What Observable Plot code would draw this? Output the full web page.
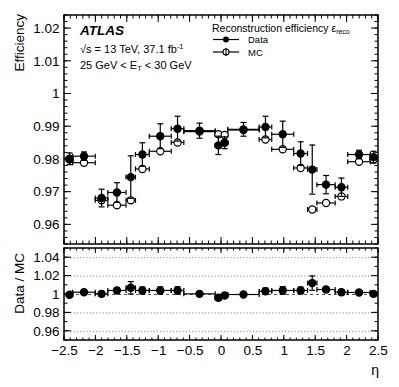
<!DOCTYPE html>
<html><head><meta charset="utf-8">
<script src="https://cdn.jsdelivr.net/npm/d3@7"></script>
<script src="https://cdn.jsdelivr.net/npm/@observablehq/plot@0.6"></script>
<style>
body{margin:0;background:#fff;}
#chart{position:relative;width:399px;height:387px;}
#chart svg{position:absolute;left:0;}
</style></head><body><div id="chart"></div>
<script>
// ---- data ----
const etaLo  = [-2.47,-2.37,-2.01,-1.81,-1.52,-1.37,-1.15,-0.8,-0.6,-0.1,0,0.1,0.6,0.8,1.15,1.37,1.52,1.81,2.01,2.37];
const etaHi  = [-2.37,-2.01,-1.81,-1.52,-1.37,-1.15,-0.8,-0.6,-0.1,0,0.1,0.6,0.8,1.15,1.37,1.52,1.81,2.01,2.37,2.47];
const etaMid = [-2.42,-2.19,-1.91,-1.665,-1.445,-1.26,-0.975,-0.7,-0.35,-0.05,0.05,0.35,0.7,0.975,1.26,1.445,1.665,1.91,2.19,2.42];
const effData = [0.9802,0.9810,0.9682,0.9699,0.9746,0.9815,0.9871,0.9894,0.9888,0.9843,0.9851,0.9892,0.9899,0.9877,0.9818,0.9769,0.9723,0.9715,0.9815,0.9807];
const errData = [0.0018,0.0013,0.0027,0.0030,0.0065,0.0036,0.0038,0.0038,0.0023,0.0028,0.0018,0.0021,0.0033,0.0040,0.0036,0.0075,0.0028,0.0028,0.0013,0.0018];
const effMC   = [0.9800,0.9790,0.9675,0.9660,0.9675,0.9771,0.9825,0.9852,0.9885,0.9877,0.9875,0.9890,0.9861,0.9831,0.9774,0.9647,0.9667,0.9687,0.9793,0.9800];
const ratio    = [0.9997,1.0025,1.0007,1.0044,1.0073,1.0044,1.0044,1.0044,1.0007,0.9965,0.9989,1.0000,1.0036,1.0044,1.0044,1.0124,1.0054,1.0025,1.0022,1.0007];
const errRatio = [0.0018,0.0013,0.0028,0.0031,0.0067,0.0037,0.0039,0.0039,0.0023,0.0028,0.0018,0.0021,0.0033,0.0041,0.0037,0.0078,0.0029,0.0029,0.0013,0.0018];
const xTicks = [-2.5,-2,-1.5,-1,-0.5,0,0.5,1,1.5,2,2.5];
const yTicksTop = [0.96,0.97,0.98,0.99,1,1.01,1.02];
const yTicksBot = [0.96,0.98,1,1.02,1.04];
const gridBot = [0.96,0.98,1.02,1.04];

const rows = etaMid.map((e,i)=>({eta:e, lo:etaLo[i], hi:etaHi[i], d:effData[i], de:errData[i], mc:effMC[i], r:ratio[i], re:errRatio[i]}));

const FONT = '"Liberation Sans", Arial, Helvetica, sans-serif';
const fmt = d3.format("~g");
const capH = {draw(c){ c.moveTo(-3,0); c.lineTo(3,0); }};
const capV = {draw(c){ c.moveTo(0,-2.5); c.lineTo(0,2.5); }};
const range = (a,b,s) => d3.range(Math.round(a/s), Math.round(b/s)+1).map(k=>+(k*s).toFixed(4));

function frameDecor({xMajor, xMinor, yMajor, yMinor, xLen, yLen}) {
  return (index, scales, values, dims) => {
    const x = scales.x, y = scales.y;
    const L = dims.marginLeft, R = dims.width - dims.marginRight, T = dims.marginTop, B = dims.height - dims.marginBottom;
    const g = d3.create("svg:g").attr("fill","none").attr("stroke","#000");
    const p = [];
    for (const v of xMajor) { const px = x(v); p.push(`M${px},${B}v${-xLen[0]}M${px},${T}v${xLen[0]}`); }
    for (const v of xMinor) { const px = x(v); p.push(`M${px},${B}v${-xLen[1]}M${px},${T}v${xLen[1]}`); }
    for (const v of yMajor) { const py = y(v); if (py < T-0.5 || py > B+0.5) continue; p.push(`M${L},${py}h${yLen[0]}M${R},${py}h${-yLen[0]}`); }
    for (const v of yMinor) { const py = y(v); if (py < T-0.5 || py > B+0.5) continue; p.push(`M${L},${py}h${yLen[1]}M${R},${py}h${-yLen[1]}`); }
    g.append("path").attr("d", p.join("")).attr("stroke-width",1);
    g.append("rect").attr("x",L).attr("y",T).attr("width",R-L).attr("height",B-T).attr("stroke-width",1.5);
    return g.node();
  };
}

function errMarks(yKey, eKey, filled) {
  const m = [
    Plot.ruleY(rows, {y:yKey, x1:"lo", x2:"hi", stroke:"#000", strokeWidth:1.2}),
    Plot.dot(rows, {x:"lo", y:yKey, symbol:capV, r:3, fill:"none", stroke:"#000", strokeWidth:1.2}),
    Plot.dot(rows, {x:"hi", y:yKey, symbol:capV, r:3, fill:"none", stroke:"#000", strokeWidth:1.2})
  ];
  if (eKey) {
    m.push(
      Plot.ruleX(rows, {x:"eta", y1:d=>d[yKey]-d[eKey], y2:d=>d[yKey]+d[eKey], stroke:"#000", strokeWidth:1.2}),
      Plot.dot(rows, {x:"eta", y:d=>d[yKey]-d[eKey], symbol:capH, r:3, fill:"none", stroke:"#000", strokeWidth:1.2}),
      Plot.dot(rows, {x:"eta", y:d=>d[yKey]+d[eKey], symbol:capH, r:3, fill:"none", stroke:"#000", strokeWidth:1.2})
    );
  }
  m.push(Plot.dot(rows, {x:"eta", y:yKey, r:3.6, fill: filled ? "#000" : "#fff", stroke:"#000", strokeWidth:1.2}));
  return m;
}

function txt(g, x, y, parts, size, extra={}) {
  const t = g.append("text").attr("x",x).attr("y",y).attr("font-size",size).attr("fill","#000").attr("text-anchor","start");
  for (const k in extra) t.attr(k, extra[k]);
  for (const p of parts) {
    const s = t.append("tspan").text(p.t);
    if (p.size) s.attr("font-size", p.size);
    if (p.dy) s.attr("dy", p.dy);
  }
  return t;
}

const topAnno = () => {
  const g = d3.create("svg:g").attr("font-family", FONT).attr("text-anchor","start");
  txt(g, 80, 34.5, [{t:"ATLAS"}], 13.5, {"font-weight":"bold","font-style":"italic"});
  txt(g, 80, 53, [{t:"\u221As = 13 TeV, 37.1 fb"},{t:"-1",size:7.5,dy:-4.5}], 11);
  txt(g, 80, 68.5, [{t:"25 GeV < E"},{t:"T",size:7.5,dy:2.5},{t:" < 30 GeV",dy:-2.5}], 11);
  txt(g, 212, 32, [{t:"Reconstruction efficiency \u03B5"},{t:"reco",size:7,dy:2}], 10.5);
  g.append("line").attr("x1",213).attr("x2",239).attr("y1",39.5).attr("y2",39.5).attr("stroke","#000").attr("stroke-width",1.2);
  g.append("circle").attr("cx",226).attr("cy",39.5).attr("r",3).attr("fill","#000");
  txt(g, 248, 43, [{t:"Data"}], 9.5);
  g.append("line").attr("x1",213).attr("x2",239).attr("y1",52).attr("y2",52).attr("stroke","#000").attr("stroke-width",1.2);
  g.append("circle").attr("cx",226).attr("cy",52).attr("r",3).attr("fill","#fff").attr("stroke","#000").attr("stroke-width",1.1);
  g.append("line").attr("x1",226).attr("x2",226).attr("y1",48).attr("y2",56).attr("stroke","#000").attr("stroke-width",1.1);
  txt(g, 248, 55.5, [{t:"MC"}], 9.5);
  txt(g, 0, 0, [{t:"Efficiency"}], 13.5, {transform:"translate(24,14) rotate(-90)", "text-anchor":"end"});
  return g.node();
};

const botAnno = () => {
  const g = d3.create("svg:g").attr("font-family", FONT);
  txt(g, 0, 0, [{t:"Data / MC"}], 13.5, {transform:"translate(24,7) rotate(-90)", "text-anchor":"end"});
  txt(g, 379, 129, [{t:"\u03B7"}], 14, {"text-anchor":"end"});
  return g.node();
};

const xMinor = range(-2.5, 2.5, 0.1);

const topPlot = Plot.plot({
  width: 399, height: 246,
  marginLeft: 64, marginRight: 21, marginTop: 15, marginBottom: 2,
  style: {fontFamily: FONT, background: "transparent", overflow: "visible"},
  x: {domain: [-2.5, 2.5], axis: null},
  y: {domain: [0.954, 1.024]},
  marks: [
    Plot.axisY(yTicksTop, {anchor:"left", tickSize:0, tickPadding:5, fontSize:13.5, label:null, tickFormat: fmt}),
    ...errMarks("mc", null, false),
    ...errMarks("d", "de", true),
    frameDecor({xMajor: xTicks, xMinor, yMajor: yTicksTop, yMinor: range(0.954, 1.024, 0.002), xLen:[7,3.5], yLen:[7,3.5]}),
    topAnno
  ]
});

const botPlot = Plot.plot({
  width: 399, height: 141,
  marginLeft: 64, marginRight: 21, marginTop: 2, marginBottom: 47,
  style: {fontFamily: FONT, background: "transparent", overflow: "visible"},
  x: {domain: [-2.5, 2.5]},
  y: {domain: [0.95, 1.05]},
  marks: [
    Plot.ruleY(gridBot, {stroke:"#888", strokeWidth:1, strokeDasharray:"1.2,2"}),
    Plot.ruleY([1], {stroke:"#555", strokeWidth:1, strokeDasharray:"3,3"}),
    Plot.axisY(yTicksBot, {anchor:"left", tickSize:0, tickPadding:5, fontSize:13.5, label:null, tickFormat: fmt}),
    Plot.axisX(xTicks, {anchor:"bottom", tickSize:0, tickPadding:5, fontSize:13.5, label:null, tickFormat: fmt}),
    ...errMarks("r", "re", true),
    frameDecor({xMajor: xTicks, xMinor, yMajor: yTicksBot, yMinor: range(0.95, 1.05, 0.01), xLen:[5,2.5], yLen:[7,3.5]}),
    botAnno
  ]
});

topPlot.style.top = "0px";
botPlot.style.top = "246px";
document.getElementById("chart").append(topPlot, botPlot);
</script>
</body></html>
